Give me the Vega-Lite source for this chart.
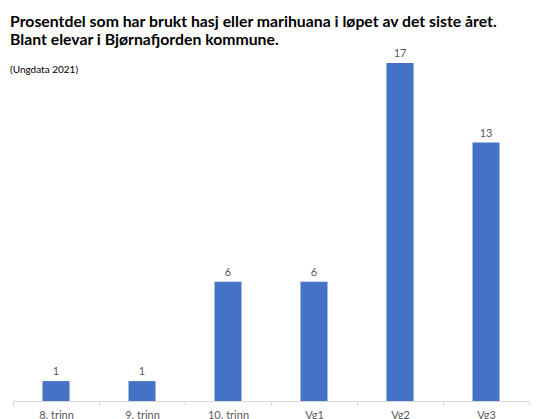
{
  "$schema": "https://vega.github.io/schema/vega-lite/v6.json",
  "autosize": "none",
  "width": 516,
  "height": 338,
  "padding": {"left": 13, "top": 63, "right": 8, "bottom": 18},
  "background": "white",
  "config": {"view": {"stroke": null}, "font": "Lato"},
  "title": {
    "text": ["Prosentdel som har brukt hasj eller marihuana i løpet av det siste året.", "Blant elevar i Bjørnafjorden kommune."],
    "subtitle": "(Ungdata 2021)",
    "anchor": "start",
    "frame": "group",
    "dx": -3,
    "offset": -28,
    "font": "Lato",
    "fontSize": 15.8,
    "fontWeight": "bold",
    "lineHeight": 18,
    "color": "#000000",
    "subtitleFont": "Lato",
    "subtitleFontSize": 10,
    "subtitleColor": "#000000",
    "subtitlePadding": 16
  },
  "data": {"values": [
    {"trinn": "8. trinn", "verdi": 1},
    {"trinn": "9. trinn", "verdi": 1},
    {"trinn": "10. trinn", "verdi": 6},
    {"trinn": "Vg1", "verdi": 6},
    {"trinn": "Vg2", "verdi": 17},
    {"trinn": "Vg3", "verdi": 13}
  ]},
  "encoding": {
    "x": {
      "field": "trinn", "type": "nominal", "sort": null,
      "scale": {"paddingInner": 0, "paddingOuter": 0},
      "axis": {
        "title": null, "labelAngle": 0, "tickBand": "extent",
        "domainColor": "#d9d9d9", "tickColor": "#d9d9d9", "tickSize": 4,
        "labelColor": "#595959", "labelFontSize": 11, "labelFont": "Lato", "labelPadding": 4
      }
    },
    "y": {
      "field": "verdi", "type": "quantitative",
      "scale": {"domain": [0, 17], "nice": false},
      "axis": null
    }
  },
  "layer": [
    {"mark": {"type": "bar", "color": "#4472C4", "width": {"band": 0.314}, "clip": false}},
    {"mark": {"type": "text", "dy": -6, "baseline": "alphabetic", "fontSize": 11, "color": "#595959", "font": "Lato"},
     "encoding": {"text": {"field": "verdi", "type": "quantitative"}}}
  ]
}
